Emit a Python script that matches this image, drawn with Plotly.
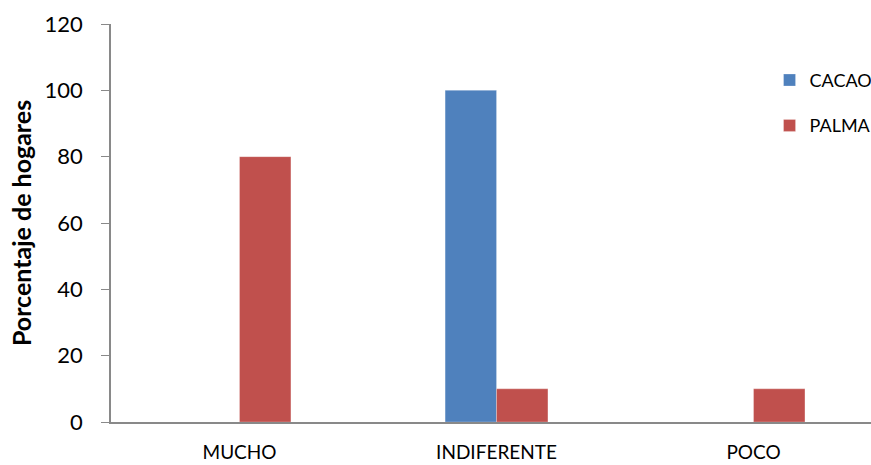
import plotly.graph_objects as go

categories = ["MUCHO", "INDIFERENTE", "POCO"]
cacao = [0, 100, 0]
palma = [80, 10, 10]
y_ticks = [0, 20, 40, 60, 80, 100, 120]

font_family = "Lato, Open Sans, sans-serif"

fig = go.Figure()
fig.add_trace(go.Bar(x=categories, y=cacao, name="CACAO", marker_color="#4F81BD",
                     marker_line=dict(color="rgba(255,255,255,0.5)", width=0.5), legendgroup="a"))
fig.add_trace(go.Bar(x=categories, y=palma, name="PALMA", marker_color="#C0504D",
                     marker_line=dict(color="rgba(255,255,255,0.5)", width=0.5), legendgroup="b"))

fig.update_layout(
    width=871, height=465,
    margin=dict(l=111, r=0, t=24, b=43, autoexpand=False),
    paper_bgcolor="white", plot_bgcolor="white",
    barmode="group", bargap=0.6, bargroupgap=0,
    font=dict(family=font_family, color="black"),
    showlegend=True,
    legend=dict(x=0.8665, y=0.905, xanchor="left", yanchor="top",
                font=dict(size=18, family=font_family), tracegroupgap=19,
                itemwidth=30, bgcolor="rgba(0,0,0,0)"),
    xaxis=dict(range=[-0.5, 2.457], showline=True, linecolor="#898989", linewidth=2,
               ticks="", tickfont=dict(size=19), ticklabelstandoff=12,
               showgrid=False, zeroline=False, automargin=False),
    yaxis=dict(range=[0, 120], tickvals=y_ticks, showline=True, linecolor="#898989",
               linewidth=1.5, ticks="outside", ticklen=8, tickcolor="#898989",
               tickfont=dict(size=22), ticklabelstandoff=14, showgrid=False, zeroline=False,
               automargin=False,
               title=dict(text="<b>Porcentaje de hogares</b>", font=dict(size=25), standoff=6)),
)

fig.write_html("out.html", config={"displayModeBar": False},
               post_script="document.body.style.margin='0';document.body.style.overflow='hidden';")
